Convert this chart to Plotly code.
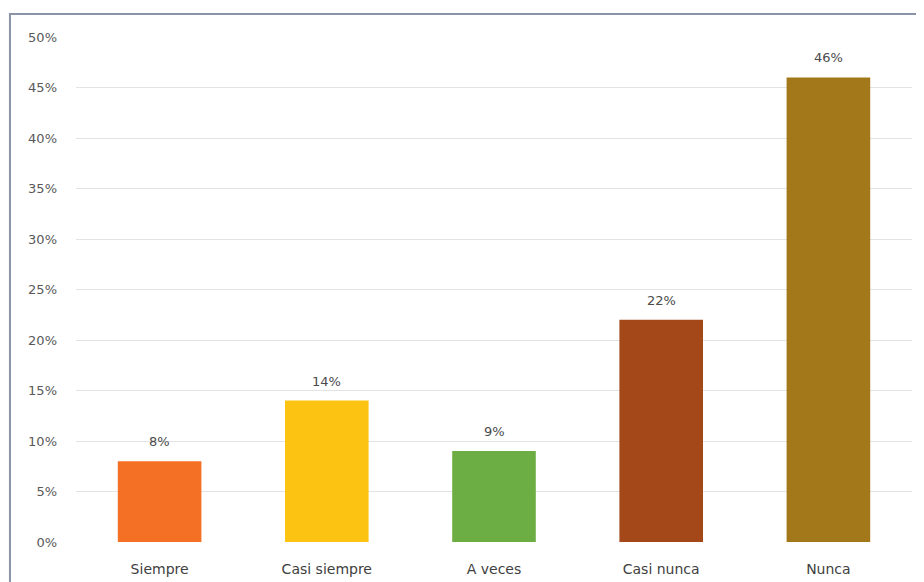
import plotly.graph_objects as go

categorias = ["Siempre", "Casi siempre", "A veces", "Casi nunca", "Nunca"]
porcentajes = [0.08, 0.14, 0.09, 0.22, 0.46]
etiquetas = ["8%", "14%", "9%", "22%", "46%"]
colores = ["#F37024", "#FDC312", "#6DAE44", "#A4481A", "#A2781A"]

fig = go.Figure()
fig.add_trace(go.Bar(
    x=categorias, y=porcentajes,
    marker=dict(color=colores, line=dict(width=0)),
))

# etiquetas de datos encima de cada barra
for c, v, t in zip(categorias, porcentajes, etiquetas):
    fig.add_annotation(x=c, y=v, text=t, showarrow=False,
                       yanchor="bottom", yshift=10,
                       font=dict(size=13, color="#4A4A4A"))

fig.update_layout(
    width=924, height=582,
    margin=dict(l=68, r=20, t=29, b=48),
    paper_bgcolor="white", plot_bgcolor="white",
    font=dict(family="DejaVu Sans, sans-serif", size=13, color="#595959"),
    bargap=0.5,
    showlegend=False,
    yaxis=dict(range=[0, 0.5], dtick=0.05, tickformat=".0%",
               showgrid=True, gridcolor="#E3E3E3", gridwidth=1,
               zeroline=False, ticklabelstandoff=18,
               tickfont=dict(size=13, color="#595959")),
    xaxis=dict(showgrid=False, zeroline=False, showline=False,
               tickfont=dict(size=14, color="#404040"), ticklabelstandoff=17),
    shapes=[dict(type="rect", xref="paper", yref="paper",
                 x0=-0.079, x1=1.2, y0=-0.2, y1=1.0455,
                 line=dict(color="#8A94A6", width=2), fillcolor="rgba(0,0,0,0)",
                 layer="below")],
)

fig.write_html("out.html")
